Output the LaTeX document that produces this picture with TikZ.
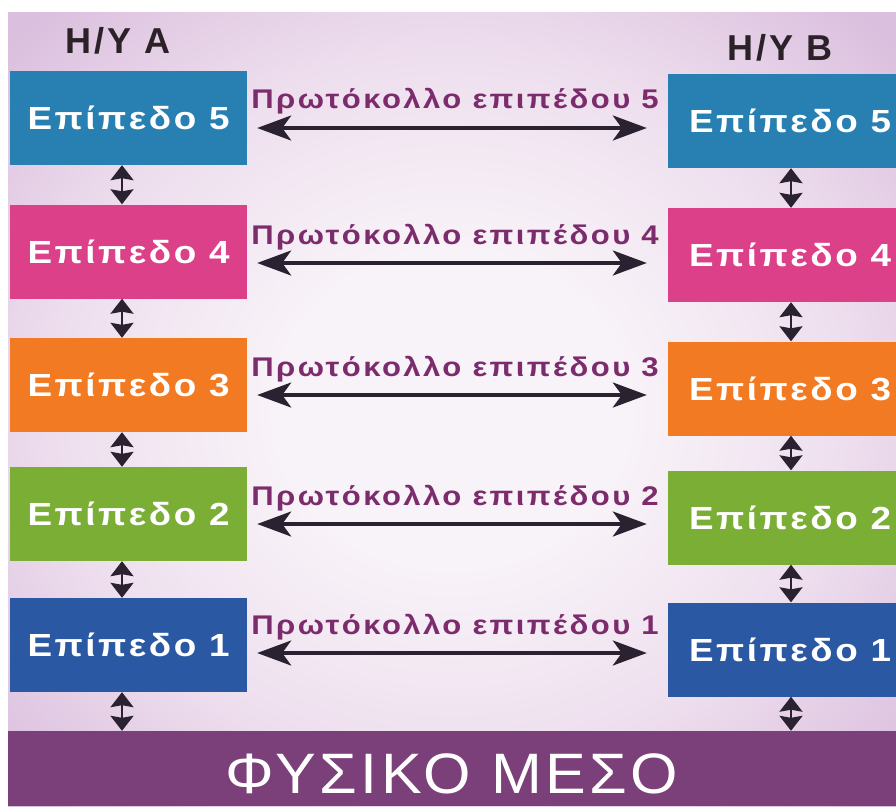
\documentclass[tikz,border=0pt]{standalone}
\usepackage{fontspec}
\usetikzlibrary{arrows.meta}
\newfontfamily\boxfont[FakeStretch=1.15,LetterSpace=8]{Liberation Sans}
\newfontfamily\labelfont[FakeStretch=1.15,LetterSpace=9]{Liberation Sans}
\newfontfamily\headfont[LetterSpace=9]{Liberation Sans}
\newfontfamily\mediumfont[FakeStretch=1.07,LetterSpace=6]{Liberation Sans}

\definecolor{lvlfive}{HTML}{2880B2}
\definecolor{lvlfour}{HTML}{DC4088}
\definecolor{lvlthree}{HTML}{F27A22}
\definecolor{lvltwo}{HTML}{7AAE34}
\definecolor{lvlone}{HTML}{2B58A2}
\definecolor{mediumfill}{HTML}{7B3F7A}
\definecolor{protocolink}{HTML}{7C2C6C}
\definecolor{arrowink}{HTML}{2A2230}
\definecolor{headink}{HTML}{2A2228}
\definecolor{glowin}{HTML}{F8F3F8}
\definecolor{glowmid}{HTML}{EEDFEE}
\definecolor{glowout}{HTML}{DBBFDE}

\pgfdeclareradialshading{paperglow}{\pgfpoint{0bp}{0bp}}{%
  color(0bp)=(glowin); color(10bp)=(glowin); color(22bp)=(glowmid);
  color(34bp)=(glowout); color(50bp)=(glowout)}

\tikzset{
  layer/.style={rectangle, inner sep=0pt, minimum width=237pt, minimum height=94pt,
    text=white, text height=23pt, text depth=0pt,
    font=\boxfont\bfseries\fontsize{32}{38}\selectfont},
  host/.style={anchor=base, text=headink, font=\headfont\bfseries\fontsize{36}{42}\selectfont},
  protolabel/.style={anchor=base, text=protocolink, font=\labelfont\bfseries\fontsize{27}{32}\selectfont},
  proto/.style={draw=arrowink, line width=3.5pt,
    {Stealth[length=34pt,width=25pt,inset=9pt]}-{Stealth[length=34pt,width=25pt,inset=9pt]},
    shorten <=10pt, shorten >=21pt},
  updown/.style={draw=arrowink, line width=2.2pt,
    {Stealth[length=15pt,width=23pt,inset=2pt]}-{Stealth[length=15pt,width=23pt,inset=2pt]}}
}

\begin{document}
\begin{tikzpicture}[x=1pt,y=-1pt]
\path[use as bounding box, clip] (0,0) rectangle (896,806);
\fill[white] (0,0) rectangle (896,806);
\shade[shading=paperglow] (8,12) rectangle (896,806);

% host titles
\node[host] (hA) at (118,53) {H/Y A};
\node[host] (hB) at (780,60) {H/Y B};

% layer stack of host A
\node[layer, fill=lvlfive]  (a5) at (128.5,118)   {Επίπεδο 5};
\node[layer, fill=lvlfour]  (a4) at (128.5,251.5) {Επίπεδο 4};
\node[layer, fill=lvlthree] (a3) at (128.5,385)   {Επίπεδο 3};
\node[layer, fill=lvltwo]   (a2) at (128.5,514)   {Επίπεδο 2};
\node[layer, fill=lvlone]   (a1) at (128.5,645)   {Επίπεδο 1};

% layer stack of host B (runs past the right edge)
\node[layer, fill=lvlfive,  minimum width=244pt] (b5) at (790,121)   {Επίπεδο 5};
\node[layer, fill=lvlfour,  minimum width=244pt] (b4) at (790,255)   {Επίπεδο 4};
\node[layer, fill=lvlthree, minimum width=244pt] (b3) at (790,388.5) {Επίπεδο 3};
\node[layer, fill=lvltwo,   minimum width=244pt] (b2) at (790,517.5) {Επίπεδο 2};
\node[layer, fill=lvlone,   minimum width=244pt] (b1) at (790,649.5) {Επίπεδο 1};

% physical medium: the bar and its caption
\node[rectangle, inner sep=0pt, fill=mediumfill, minimum width=888pt, minimum height=75pt]
  (phys) at (452,768.5) {};
\node[anchor=base, inner sep=0pt, text=white,
      font=\mediumfont\fontsize{57}{62}\selectfont] (physlabel) at (452,793) {ΦΥΣΙΚΟ ΜΕΣΟ};

% peer protocols
\node[protolabel] (t5) at (455,108) {Πρωτόκολλο επιπέδου 5};
\node[protolabel] (t4) at (455,244) {Πρωτόκολλο επιπέδου 4};
\node[protolabel] (t3) at (455,376) {Πρωτόκολλο επιπέδου 3};
\node[protolabel] (t2) at (455,505) {Πρωτόκολλο επιπέδου 2};
\node[protolabel] (t1) at (455,634) {Πρωτόκολλο επιπέδου 1};

\coordinate (r5) at ([yshift=-10pt]a5.east);
\coordinate (r4) at ([yshift=-11.5pt]a4.east);
\coordinate (r3) at ([yshift=-10pt]a3.east);
\coordinate (r2) at ([yshift=-10pt]a2.east);
\coordinate (r1) at ([yshift=-8pt]a1.east);
\draw[proto] (r5) -- (r5 -| b5.west);
\draw[proto] (r4) -- (r4 -| b4.west);
\draw[proto] (r3) -- (r3 -| b3.west);
\draw[proto] (r2) -- (r2 -| b2.west);
\draw[proto] (r1) -- (r1 -| b1.west);

% interfaces between adjacent layers
\draw[updown] ([xshift=-6.5pt]a5.south) -- ([xshift=-6.5pt]a4.north);
\draw[updown] ([xshift=-6.5pt]a4.south) -- ([xshift=-6.5pt]a3.north);
\draw[updown] ([xshift=-6.5pt]a3.south) -- ([xshift=-6.5pt]a2.north);
\draw[updown] ([xshift=-6.5pt]a2.south) -- ([xshift=-6.5pt]a1.north);
\draw[updown] ([xshift=-6.5pt]a1.south) -- ([xshift=-6.5pt]a1.south |- phys.north);
\draw[updown] ([xshift=1pt]b5.south) -- ([xshift=1pt]b4.north);
\draw[updown] ([xshift=1pt]b4.south) -- ([xshift=1pt]b3.north);
\draw[updown] ([xshift=1pt]b3.south) -- ([xshift=1pt]b2.north);
\draw[updown] ([xshift=1pt]b2.south) -- ([xshift=1pt]b1.north);
\draw[updown] ([xshift=1pt]b1.south) -- ([xshift=1pt]b1.south |- phys.north);
\end{tikzpicture}
\end{document}
